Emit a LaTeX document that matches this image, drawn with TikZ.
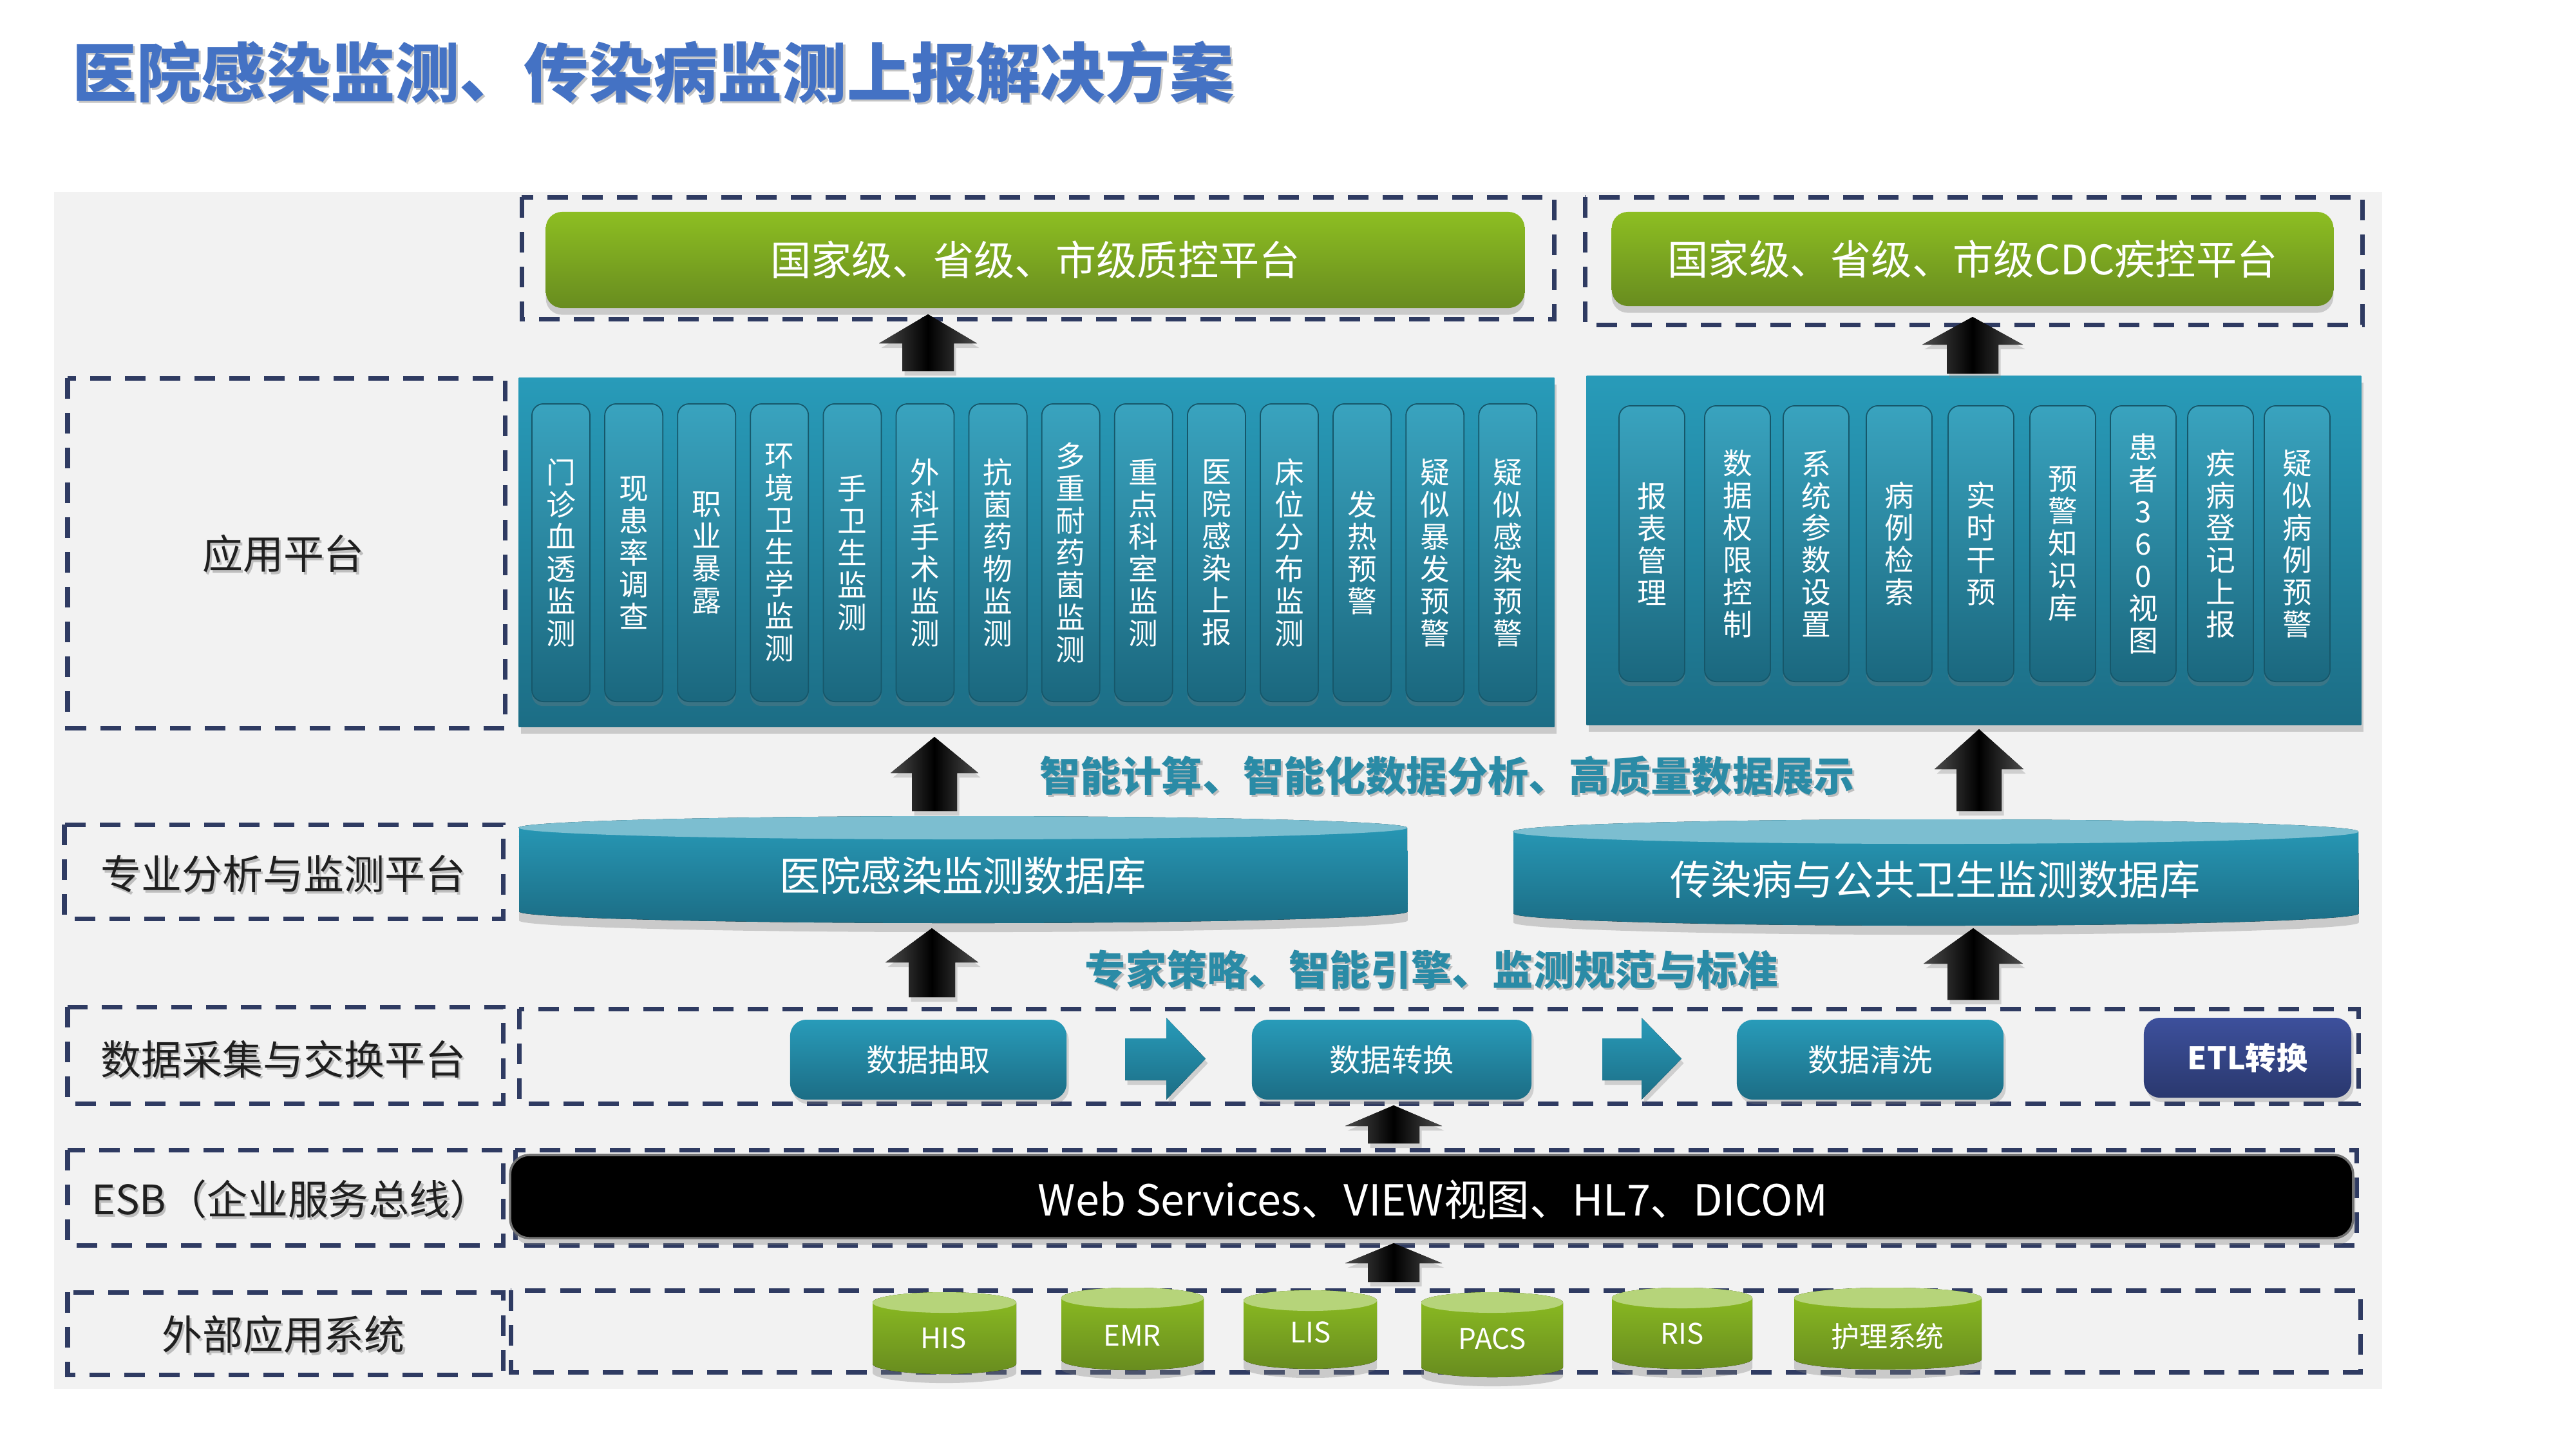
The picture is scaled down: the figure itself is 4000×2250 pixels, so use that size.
\documentclass[tikz,border=0pt]{standalone}
\usepackage{fontspec}
\setmainfont{Noto Sans CJK SC}
\usetikzlibrary{shadows}
\definecolor{bgc}{HTML}{F2F2F2}
\definecolor{dashc}{HTML}{2F3B62}
\definecolor{titlec}{HTML}{4472C4}
\definecolor{tealT}{HTML}{289BB9}
\definecolor{tealB}{HTML}{1C6D85}
\definecolor{tealFace}{HTML}{7CBED0}
\definecolor{greenT}{HTML}{8DBE22}
\definecolor{greenB}{HTML}{688C1F}
\definecolor{greenFace}{HTML}{B6D47A}
\definecolor{sloganc}{HTML}{2A8BA6}
\definecolor{etlT}{HTML}{3D509C}
\definecolor{etlB}{HTML}{2A386E}
\definecolor{labelc}{HTML}{1F1F1F}
\newcommand\fs[2]{\fontsize{#1}{#2}\selectfont}
% text with a soft shadow: [options]{name}{x,y}{text}
\newcommand\stext[4][]{%
  \node[#1,text=black!50,opacity=.45,xshift=0.9pt,yshift=-0.9pt] at (#3) {#4};
  \node[#1] (#2) at (#3) {#4};}
% upward block arrow: cx, tip, head base, bottom, half head, half shaft
\newcommand\uparr[6]{%
  \fill[blkarrow] (#1-#6,#4) -- (#1-#6,#3) -- (#1-#5,#3) -- (#1,#2) -- (#1+#5,#3) -- (#1+#6,#3) -- (#1+#6,#4) -- cycle;}
% right block arrow: x start, x head, x tip, y head top, y head bottom, y shaft top, y shaft bottom
\newcommand\rarr[7]{%
  \fill[tealarrow] (#1,#6) -- (#2,#6) -- (#2,#4) -- (#3,{(#4+#5)/2}) -- (#2,#5) -- (#2,#7) -- (#1,#7) -- cycle;}
% cylinder: x1, x2, ytop, ybottom, ry, side top colour, side bottom colour, face colour
\newcommand\cylshape[8]{%
  \pgfmathsetmacro\cylcx{(#1+#2)/2}%
  \pgfmathsetmacro\cylrx{(#2-#1)/200}%
  \pgfmathsetmacro\cylry{#5/100}%
  \pgfmathsetmacro\cylyt{#3+#5}%
  \pgfmathsetmacro\cylyb{#4-#5}%
  \fill[top color=#6,bottom color=#7,drop shadow={opacity=.35,shadow xshift=0pt,shadow yshift=-4pt}]
    (#1,\cylyt) -- (#1,\cylyb) arc[start angle=180,end angle=360,x radius=\cylrx cm,y radius=\cylry cm]
    -- (#2,\cylyt) arc[start angle=0,end angle=180,x radius=\cylrx cm,y radius=\cylry cm] -- cycle;
  \fill[#8] (\cylcx,\cylyt) ellipse[x radius=\cylrx cm,y radius=\cylry cm];}
\begin{document}
\begin{tikzpicture}[x=0.01cm,y=-0.01cm,
  dashbox/.style={draw=dashc,line width=0.07cm,dash pattern=on 0.32cm off 0.22cm},
  labeltext/.style={text=labelc,font=\fs{17.9}{20}},
  blkarrow/.style={left color=black!70,right color=black!70,middle color=black,
     drop shadow={opacity=.3,shadow xshift=1pt,shadow yshift=-2pt}},
  tealarrow/.style={top color=tealT,bottom color=tealB,
     drop shadow={opacity=.3,shadow xshift=1pt,shadow yshift=-2pt}},
  greenbar/.style={top color=greenT,bottom color=greenB,rounded corners=0.25cm,
     drop shadow={opacity=.35,shadow xshift=0pt,shadow yshift=-3pt},
     text=white,font=\fs{18}{20}},
  panel/.style={top color=tealT,bottom color=tealB,
     drop shadow={opacity=.35,shadow xshift=1pt,shadow yshift=-3pt}},
  colbox/.style={top color=tealT!92!white,bottom color=tealB!95!black,draw=tealB!80!black,
     line width=0.5pt,rounded corners=0.18cm,align=center,text=white,
     font=\fs{13}{14.2},inner sep=0pt,
     drop shadow={opacity=.3,shadow xshift=0pt,shadow yshift=-2pt}},
  procbox/.style={top color=tealT,bottom color=tealB,rounded corners=0.25cm,
     minimum height=1.24cm,text=white,font=\fs{13.7}{15},
     drop shadow={opacity=.3,shadow xshift=1pt,shadow yshift=-2pt}},
  slogan/.style={text=sloganc,font=\bfseries\fs{18}{20}},
  cyltext/.style={text=white,font=\fs{12.5}{14}},
  dbtext/.style={text=white,font=\fs{18}{20}}]
\useasboundingbox (0,0) rectangle (4000,2250);
\fill[white] (0,0) rectangle (4000,2250);
\fill[bgc] (84,298) rectangle (3699,2156);

% title
\stext[anchor=west,text=titlec,font=\bfseries\fs{28.5}{32}]{title}{100,112}{医院感染监测、传染病监测上报解决方案}

% dashed frames
\draw[dashbox] (810,306) rectangle (2413,495);
\draw[dashbox] (2461,306) rectangle (3668,504);
\draw[dashbox] (105,587) rectangle (784,1130);
\draw[dashbox] (100,1280) rectangle (781,1426);
\draw[dashbox] (105,1563) rectangle (781,1713);
\draw[dashbox] (806,1566) rectangle (3662,1713);
\draw[dashbox] (105,1785) rectangle (781,1933);
\draw[dashbox] (800,1785) rectangle (3659,1933);
\draw[dashbox] (105,2006) rectangle (781,2134);
\draw[dashbox] (793,2003) rectangle (3665,2130);

% layer labels
\stext[labeltext]{lab1}{440,860}{应用平台}
\stext[labeltext]{lab2}{440,1357}{专业分析与监测平台}
\stext[labeltext]{lab3}{440,1644}{数据采集与交换平台}
\stext[labeltext]{lab4}{452,1862}{ESB（企业服务总线）}
\stext[labeltext]{lab5}{440,2072}{外部应用系统}

% top platforms
\node[greenbar,minimum width=15.19cm,minimum height=1.49cm] (g1) at (1607.5,403.5) {国家级、省级、市级质控平台};
\node[greenbar,minimum width=11.20cm,minimum height=1.46cm] (g2) at (3063,402) {国家级、省级、市级CDC疾控平台};

% application panels
\node[panel,minimum width=16.07cm,minimum height=5.41cm] (P1) at (1609.5,857.5) {};
\node[panel,minimum width=12.02cm,minimum height=5.41cm] (P2) at (3065,854.5) {};

\foreach \t [count=\i from 0] in {{门\\诊\\血\\透\\监\\测},{现\\患\\率\\调\\查},{职\\业\\暴\\露},
   {环\\境\\卫\\生\\学\\监\\测},{手\\卫\\生\\监\\测},{外\\科\\手\\术\\监\\测},{抗\\菌\\药\\物\\监\\测},
   {多\\重\\耐\\药\\菌\\监\\测},{重\\点\\科\\室\\监\\测},{医\\院\\感\\染\\上\\报},{床\\位\\分\\布\\监\\测},
   {发\\热\\预\\警},{疑\\似\\暴\\发\\预\\警},{疑\\似\\感\\染\\预\\警}}{
  \pgfmathsetmacro\cx{871+113.1*\i}
  \node[colbox,minimum width=0.9cm,minimum height=4.62cm] (L\i) at (\cx,858) {\t};
}
\foreach \x/\t [count=\i] in {2514/{报\\表\\管\\理},2647/{数\\据\\权\\限\\控\\制},2769/{系\\统\\参\\数\\设\\置},
   2898/{病\\例\\检\\索},3025/{实\\时\\干\\预},3152/{预\\警\\知\\识\\库},3277/{患\\者\\3\\6\\0\\视\\图},
   3397/{疾\\病\\登\\记\\上\\报},3516/{疑\\似\\病\\例\\预\\警}}{
  \pgfmathsetmacro\cx{\x+51}
  \node[colbox,minimum width=1.02cm,minimum height=4.28cm] (R\i) at (\cx,844) {\t};
}

% databases
\cylshape{806}{2185}{1267}{1433}{18}{tealT}{tealB}{tealFace}
\node[dbtext] (db1) at (1495,1359) {医院感染监测数据库};
\cylshape{2350}{3662}{1272}{1437}{19}{tealT}{tealB}{tealFace}
\node[dbtext] (db2) at (3005,1366) {传染病与公共卫生监测数据库};

% slogans
\stext[slogan]{s1}{2247,1204}{智能计算、智能化数据分析、高质量数据展示}
\stext[slogan]{s2}{2223,1505}{专家策略、智能引擎、监测规范与标准}

% data collection processes
\node[procbox,minimum width=4.29cm] (p1) at (1441.5,1645) {数据抽取};
\node[procbox,minimum width=4.34cm] (p2) at (2161,1645) {数据转换};
\node[procbox,minimum width=4.14cm] (p3) at (2904,1645) {数据清洗};
\node[procbox,top color=etlT,bottom color=etlB,minimum width=3.22cm,font=\bfseries\fs{13.7}{15}] (etl) at (3490,1642) {ETL转换};
\rarr{1747}{1811}{1872}{1580}{1707}{1612}{1677}
\rarr{2488}{2549}{2611}{1580}{1707}{1612}{1677}

% ESB bar
\node[fill=black,draw=black!55,line width=1pt,rounded corners=0.3cm,minimum width=28.6cm,minimum height=1.29cm,
   drop shadow={opacity=.35,shadow xshift=1pt,shadow yshift=-3pt}] (esb) at (2223,1857.5) {};
\node[text=white,font=\fs{18.9}{20}] (esbt) at (2225,1862) {Web Services、VIEW视图、HL7、DICOM};

% external systems
\cylshape{1355}{1578}{2006}{2133}{16}{greenT}{greenB}{greenFace}
\node[cyltext] (his) at (1465,2077) {HIS};
\cylshape{1648}{1869}{1999}{2127}{16}{greenT}{greenB}{greenFace}
\node[cyltext] (emr) at (1758,2073) {EMR};
\cylshape{1931}{2138}{2003}{2125}{16}{greenT}{greenB}{greenFace}
\node[cyltext] (lis) at (2035,2068) {LIS};
\cylshape{2207}{2427}{2006}{2138}{16}{greenT}{greenB}{greenFace}
\node[cyltext] (pacs) at (2317,2078) {PACS};
\cylshape{2503}{2721}{1999}{2125}{16}{greenT}{greenB}{greenFace}
\node[cyltext] (ris) at (2612,2070) {RIS};
\cylshape{2786}{3077}{1999}{2126}{16}{greenT}{greenB}{greenFace}
\node[cyltext] (nurse) at (2931,2075) {护理系统};

% block arrows
\uparr{1441}{488}{533}{576}{76}{40}
\uparr{3063}{492}{535}{580}{78}{40}
\uparr{1451}{1144}{1200}{1259}{68}{35}
\uparr{3073}{1132}{1194}{1259}{69}{35}
\uparr{1447}{1441}{1494}{1548}{72}{36}
\uparr{3064}{1441}{1496}{1552}{77}{40}
\uparr{2164}{1716}{1748}{1775}{75}{40}
\uparr{2164}{1930}{1961}{1990}{75}{40}
\end{tikzpicture}
\end{document}
